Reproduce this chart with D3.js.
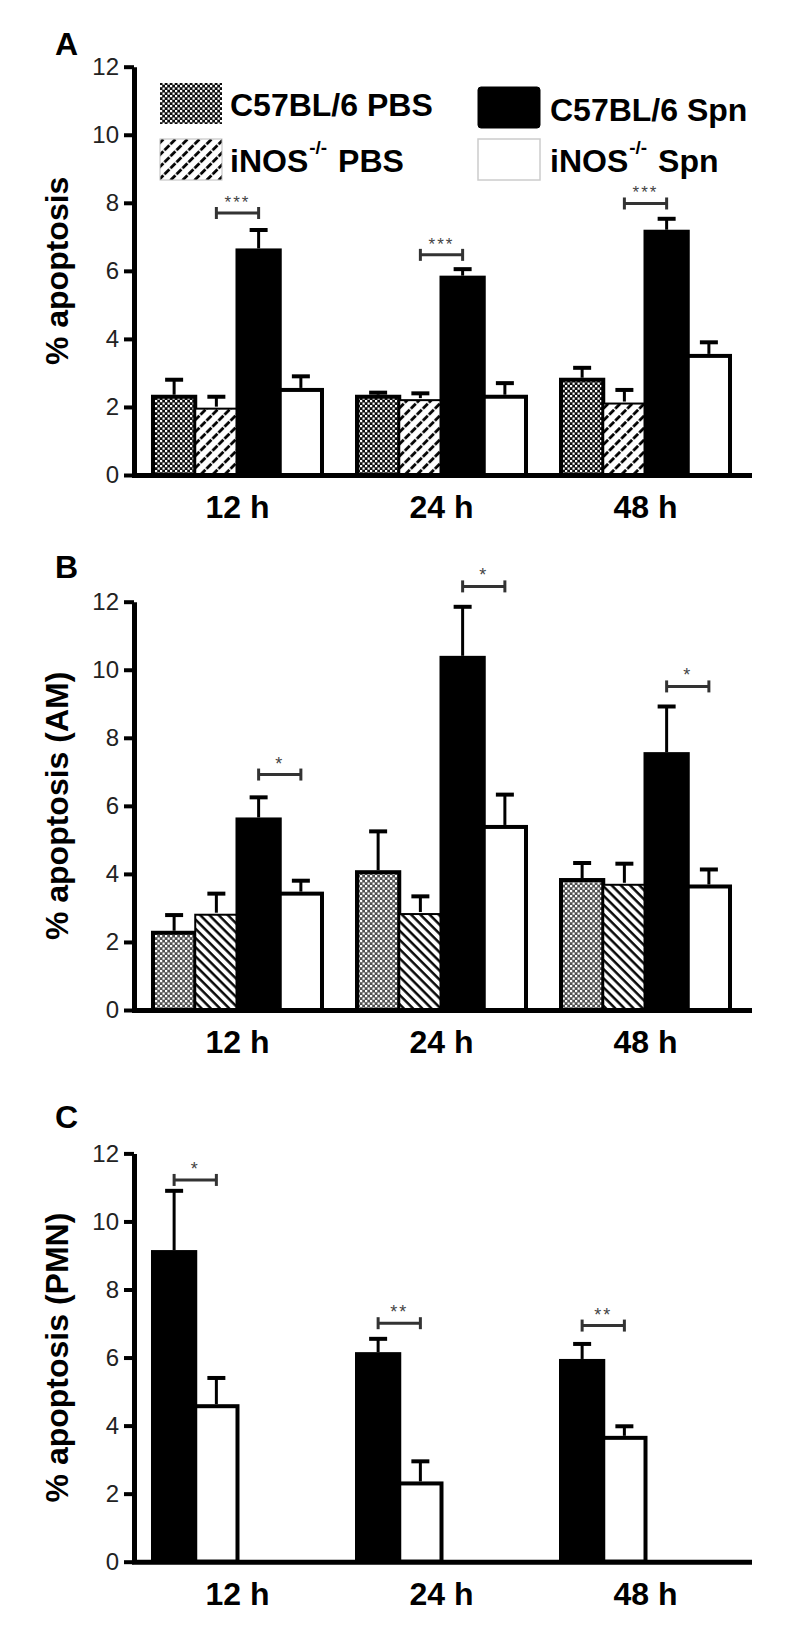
<!DOCTYPE html>
<html><head><meta charset="utf-8">
<script src="https://cdn.jsdelivr.net/npm/d3@7"></script>
<style>body{margin:0;background:#fff}</style>
</head><body>
<svg id="c" width="800" height="1632" xmlns="http://www.w3.org/2000/svg"></svg>
<script>
// ---------- data ----------
const categories = ["12 h", "24 h", "48 h"];
const yTickValues = [0, 2, 4, 6, 8, 10, 12];
const legendLabels = ["C57BL/6 PBS", "iNOS-/- PBS", "C57BL/6 Spn", "iNOS-/- Spn"];

// Panel A  (% apoptosis)
const aC57PBS = [2.3, 2.3, 2.8];
const aC57PBSErr = [0.5, 0.12, 0.35];
const aINOSPBS = [1.95, 2.2, 2.1];
const aINOSPBSErr = [0.35, 0.2, 0.4];
const aC57Spn = [6.6, 5.8, 7.15];
const aC57SpnErr = [0.6, 0.25, 0.38];
const aINOSSpn = [2.5, 2.3, 3.5];
const aINOSSpnErr = [0.4, 0.4, 0.4];
const aSigLabels = ["***", "***", "***"];
const aSigY = [7.7, 6.47, 7.98];

// Panel B  (% apoptosis (AM))
const bC57PBS = [2.27, 4.05, 3.82];
const bC57PBSErr = [0.52, 1.2, 0.5];
const bINOSPBS = [2.8, 2.82, 3.68];
const bINOSPBSErr = [0.62, 0.52, 0.62];
const bC57Spn = [5.6, 10.35, 7.52];
const bC57SpnErr = [0.65, 1.5, 1.4];
const bINOSSpn = [3.42, 5.38, 3.63];
const bINOSSpnErr = [0.38, 0.95, 0.5];
const bSigLabels = ["*", "*", "*"];
const bSigY = [6.92, 12.45, 9.51];

// Panel C  (% apoptosis (PMN))
const cC57Spn = [9.1, 6.1, 5.9];
const cC57SpnErr = [1.8, 0.45, 0.5];
const cINOSSpn = [4.57, 2.3, 3.64];
const cINOSSpnErr = [0.83, 0.65, 0.34];
const cSigLabels = ["*", "**", "**"];
const cSigY = [11.22, 7.01, 6.94];

// ---------- drawing ----------
const svg = d3.select("#c");
const FONT = "'Liberation Sans', Arial, sans-serif";
const defs = svg.append("defs");

function checker(id, bg, dot) {
  const p = defs.append("pattern").attr("id", id).attr("patternUnits", "userSpaceOnUse")
    .attr("width", 5).attr("height", 5);
  p.append("rect").attr("width", 5).attr("height", 5).attr("fill", bg);
  p.append("rect").attr("x", 0).attr("y", 0).attr("width", 2.2).attr("height", 2.2).attr("fill", dot);
  p.append("rect").attr("x", 2.5).attr("y", 2.5).attr("width", 2.2).attr("height", 2.2).attr("fill", dot);
}
function hatch(id, angle, spacing, sw, dash) {
  const p = defs.append("pattern").attr("id", id).attr("patternUnits", "userSpaceOnUse")
    .attr("width", spacing).attr("height", spacing)
    .attr("patternTransform", `rotate(${angle})`);
  p.append("rect").attr("width", spacing).attr("height", spacing).attr("fill", "#fff");
  const l = p.append("line").attr("x1", 1.5).attr("x2", 1.5).attr("y1", 0).attr("y2", spacing)
    .attr("stroke", "#000").attr("stroke-width", sw);
  if (dash) l.attr("stroke-dasharray", dash);
}
checker("checkA", "#0d0d0d", "#fff");
checker("checkB", "#505050", "#fff");
hatch("hatchA", 45, 8.5, 2.8, "7,1.5");
hatch("hatchB", -45, 6.5, 2.4, null);

const x0 = d3.scaleBand().domain(categories).range([134, 749])
  .paddingInner(0.1716).paddingOuter(0.0931);
const slot = x0.bandwidth() / 4;

const styleFor = {
  c57pbs: (pat) => ({ fill: `url(#${pat})`, stroke: "#000", sw: 4 }),
  inospbs: (pat) => ({ fill: `url(#${pat})`, stroke: "#000", sw: 2 }),
  c57spn: () => ({ fill: "#000", stroke: "#000", sw: 4 }),
  inosspn: () => ({ fill: "#fff", stroke: "#000", sw: 4 })
};

const panels = [
  {
    top: 66.7, zero: 475, title: "% apoptosis", letter: "A", letterY: 55,
    series: [
      { vals: aC57PBS, errs: aC57PBSErr, slot: 0, st: styleFor.c57pbs("checkA") },
      { vals: aINOSPBS, errs: aINOSPBSErr, slot: 1, st: styleFor.inospbs("hatchA") },
      { vals: aC57Spn, errs: aC57SpnErr, slot: 2, st: styleFor.c57spn() },
      { vals: aINOSSpn, errs: aINOSSpnErr, slot: 3, st: styleFor.inosspn() }
    ],
    sig: { labels: aSigLabels, ys: aSigY, boundary: 2, fs: 17 }
  },
  {
    top: 601.7, zero: 1010, title: "% apoptosis (AM)", letter: "B", letterY: 578,
    series: [
      { vals: bC57PBS, errs: bC57PBSErr, slot: 0, st: styleFor.c57pbs("checkB") },
      { vals: bINOSPBS, errs: bINOSPBSErr, slot: 1, st: styleFor.inospbs("hatchB") },
      { vals: bC57Spn, errs: bC57SpnErr, slot: 2, st: styleFor.c57spn() },
      { vals: bINOSSpn, errs: bINOSSpnErr, slot: 3, st: styleFor.inosspn() }
    ],
    sig: { labels: bSigLabels, ys: bSigY, boundary: 3, fs: 18 }
  },
  {
    top: 1153.4, zero: 1561.7, title: "% apoptosis (PMN)", letter: "C", letterY: 1128,
    series: [
      { vals: cC57Spn, errs: cC57SpnErr, slot: 0, st: styleFor.c57spn() },
      { vals: cINOSSpn, errs: cINOSSpnErr, slot: 1, st: styleFor.inosspn() }
    ],
    sig: { labels: cSigLabels, ys: cSigY, boundary: 1, fs: 18 }
  }
];

panels.forEach(p => {
  const g = svg.append("g");
  const y = d3.scaleLinear().domain([0, 12]).range([p.zero, p.top]);

  // bars
  p.series.forEach(s => {
    g.selectAll(null).data(categories).enter().append("rect")
      .attr("x", (d) => x0(d) + s.slot * slot)
      .attr("width", slot)
      .attr("y", (d, i) => y(s.vals[i]))
      .attr("height", (d, i) => y(0) - y(s.vals[i]))
      .attr("fill", s.st.fill).attr("stroke", s.st.stroke).attr("stroke-width", s.st.sw);
  });
  // error bars
  p.series.forEach(s => {
    const cx = (d) => x0(d) + (s.slot + 0.5) * slot;
    g.selectAll(null).data(categories).enter().append("line")
      .attr("x1", cx).attr("x2", cx)
      .attr("y1", (d, i) => y(s.vals[i]) - 2)
      .attr("y2", (d, i) => y(s.vals[i] + s.errs[i]))
      .attr("stroke", "#000").attr("stroke-width", 3);
    g.selectAll(null).data(categories).enter().append("line")
      .attr("x1", d => cx(d) - 9).attr("x2", d => cx(d) + 9)
      .attr("y1", (d, i) => y(s.vals[i] + s.errs[i]))
      .attr("y2", (d, i) => y(s.vals[i] + s.errs[i]))
      .attr("stroke", "#000").attr("stroke-width", 4);
  });
  // significance brackets
  const bx1 = d => x0(d) + (p.sig.boundary - 0.5) * slot;
  const bx2 = d => x0(d) + (p.sig.boundary + 0.5) * slot;
  const bg = g.selectAll(null).data(categories).enter().append("g");
  bg.append("line").attr("x1", bx1).attr("x2", bx2)
    .attr("y1", (d, i) => y(p.sig.ys[i])).attr("y2", (d, i) => y(p.sig.ys[i]))
    .attr("stroke", "#333").attr("stroke-width", 3);
  bg.append("line").attr("x1", bx1).attr("x2", bx1)
    .attr("y1", (d, i) => y(p.sig.ys[i]) - 6).attr("y2", (d, i) => y(p.sig.ys[i]) + 6)
    .attr("stroke", "#333").attr("stroke-width", 3);
  bg.append("line").attr("x1", bx2).attr("x2", bx2)
    .attr("y1", (d, i) => y(p.sig.ys[i]) - 6).attr("y2", (d, i) => y(p.sig.ys[i]) + 6)
    .attr("stroke", "#333").attr("stroke-width", 3);
  bg.append("text").attr("x", d => (bx1(d) + bx2(d)) / 2)
    .attr("y", (d, i) => y(p.sig.ys[i]) - 5)
    .attr("text-anchor", "middle").attr("font-family", FONT).attr("font-size", p.sig.fs)
    .attr("letter-spacing", 2).attr("fill", "#444")
    .text((d, i) => p.sig.labels[i]);

  // y axis
  const ya = g.append("g").attr("transform", "translate(134,0)")
    .call(d3.axisLeft(y).tickValues(yTickValues).tickSize(10).tickPadding(5).tickSizeOuter(0));
  ya.select(".domain").attr("stroke", "#000").attr("stroke-width", 5);
  ya.selectAll(".tick line").attr("stroke", "#000").attr("stroke-width", 4);
  ya.selectAll(".tick text").attr("font-family", FONT).attr("font-size", 24).attr("fill", "#222");

  // x axis
  const xa = g.append("g").attr("transform", `translate(0,${p.zero})`)
    .call(d3.axisBottom(x0).tickSize(0).tickPadding(0).tickSizeOuter(0));
  xa.select(".domain").attr("stroke", "#000").attr("stroke-width", 5).attr("stroke-linecap", "square");
  xa.selectAll(".tick text").attr("y", 43).attr("dy", null)
    .attr("font-family", FONT).attr("font-size", 32).attr("font-weight", "bold").attr("fill", "#000");

  // y title
  g.append("text").attr("transform", `translate(68,${(p.top + p.zero) / 2}) rotate(-90)`)
    .attr("text-anchor", "middle").attr("font-family", FONT).attr("font-size", 32)
    .attr("font-weight", "bold").text(p.title);
  // panel letter
  g.append("text").attr("x", 55).attr("y", p.letterY).attr("font-family", FONT)
    .attr("font-size", 32).attr("font-weight", "bold").text(p.letter);
});

// ---------- legend (panel A) ----------
const legendItems = [
  { label: legendLabels[0], sx: 160, sy: 83, tx: 230, ty: 116, fill: "url(#checkA)", stroke: "none", sw: 0 },
  { label: legendLabels[1], sx: 160, sy: 139, tx: 230, ty: 172, fill: "url(#hatchA)", stroke: "#bbb", sw: 1 },
  { label: legendLabels[2], sx: 478, sy: 87, tx: 550, ty: 121, fill: "#000", stroke: "#000", sw: 1 },
  { label: legendLabels[3], sx: 478, sy: 139, tx: 550, ty: 172, fill: "#fff", stroke: "#ccc", sw: 1.5 }
];
const lg = svg.append("g");
legendItems.forEach(it => {
  lg.append("rect").attr("x", it.sx).attr("y", it.sy).attr("width", 62).attr("height", 41)
    .attr("rx", it.fill === "#000" ? 3 : 0)
    .attr("fill", it.fill).attr("stroke", it.stroke).attr("stroke-width", it.sw);
  const t = lg.append("text").attr("x", it.tx).attr("y", it.ty).attr("font-family", FONT)
    .attr("font-size", 32).attr("font-weight", "bold");
  if (it.label.includes("-/-")) {
    const parts = it.label.split("-/-");
    t.append("tspan").text(parts[0]);
    t.append("tspan").attr("font-size", 19).attr("dy", -18).attr("dx", 1).text("-/-");
    t.append("tspan").attr("dy", 18).attr("dx", 2).text(parts[1]);
  } else {
    t.text(it.label);
  }
});
</script>
</body></html>
